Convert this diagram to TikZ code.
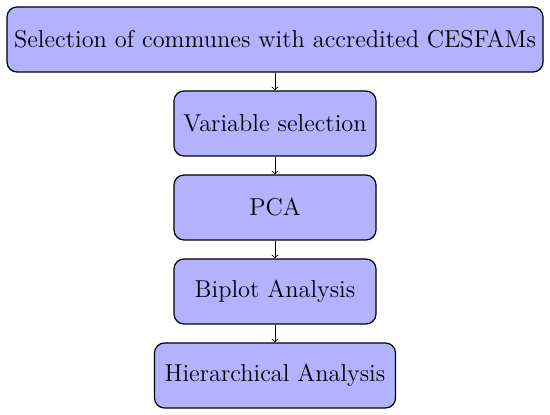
\documentclass[tikz,border=0pt]{standalone}
\usetikzlibrary{arrows,positioning}

\begin{document}
\begin{tikzpicture}[x=0.5pt,y=-0.5pt,
    node distance=8.9pt,
    stage/.style={draw, line width=0.6pt, rounded corners=5pt, fill=blue!30,
        minimum width=101pt, minimum height=32.5pt,
        font=\fontsize{12.2}{14}\selectfont}]
    \useasboundingbox (0,0) rectangle (550,415);
    \node[stage, minimum width=268pt] (communes) at (275,39.5)
        {Selection of communes with accredited CESFAMs};
    \node[stage, below=of communes] (variables) {Variable selection};
    \node[stage, below=of variables] (pca) {PCA};
    \node[stage, below=of pca] (biplot) {Biplot Analysis};
    \node[stage, below=of biplot, minimum width=120.5pt] (hierarchy)
        {Hierarchical Analysis};
    \draw[->] (communes) -- (variables);
    \draw[->] (variables) -- (pca);
    \draw[->] (pca) -- (biplot);
    \draw[->] (biplot) -- (hierarchy);
\end{tikzpicture}
\end{document}
